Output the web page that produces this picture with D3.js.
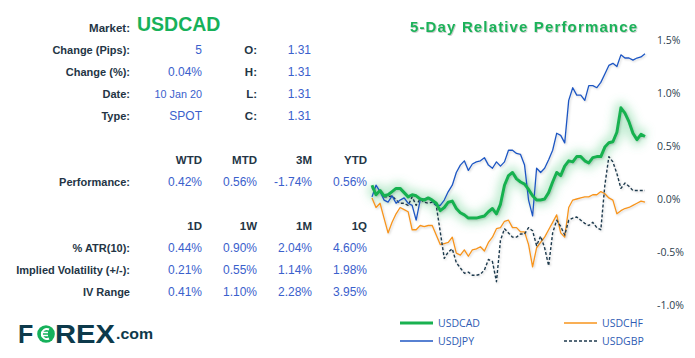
<!DOCTYPE html>
<html><head><meta charset="utf-8">
<script src="https://cdn.jsdelivr.net/npm/d3@7"></script>
<style>
html,body{margin:0;padding:0;background:#fff;}
svg{display:block;}
</style></head><body>
<svg id="c" width="695" height="358"></svg>
<script>
const market = "USDCAD";
const infoLabels = ["Change (Pips):", "Change (%):", "Date:", "Type:"];
const infoValues = ["5", "0.04%", "10 Jan 20", "SPOT"];
const ohlcLabels = ["O:", "H:", "L:", "C:"];
const ohlcValues = ["1.31", "1.31", "1.31", "1.31"];
const perfHeaders = ["WTD", "MTD", "3M", "YTD"];
const perfValues = ["0.42%", "0.56%", "-1.74%", "0.56%"];
const volHeaders = ["1D", "1W", "1M", "1Q"];
const volLabels = ["% ATR(10):", "Implied Volatility (+/-):", "IV Range"];
const atrValues = ["0.44%", "0.90%", "2.04%", "4.60%"];
const ivValues = ["0.21%", "0.55%", "1.14%", "1.98%"];
const ivRangeValues = ["0.41%", "1.10%", "2.28%", "3.95%"];
const yTicks = [1.5, 1.0, 0.5, 0.0, -0.5, -1.0];
const chartTitle = "5-Day Relative Performance";
const seriesNames = ["USDCAD", "USDJPY", "USDCHF", "USDGBP"];

const usdcad = [0.13,0.04,0.08,0.03,0.04,0.07,0.10,0.10,0.06,0.02,0.04,0.03,0.00,-0.01,0.01,-0.01,-0.04,-0.11,-0.08,-0.03,-0.02,-0.09,-0.13,-0.15,-0.18,-0.18,-0.18,-0.17,-0.16,-0.12,-0.09,-0.14,-0.05,0.13,0.22,0.25,0.19,0.16,0.14,0.09,0.03,-0.01,-0.01,0.00,0.06,0.16,0.25,0.22,0.31,0.36,0.35,0.40,0.40,0.36,0.34,0.39,0.40,0.40,0.49,0.53,0.54,0.63,0.86,0.81,0.73,0.62,0.56,0.61,0.59];
const usdjpy = [0.02,0.13,0.07,-0.01,-0.03,0.03,-0.04,-0.01,0.01,-0.04,-0.06,-0.20,-0.01,0.00,0.01,-0.02,-0.06,-0.06,-0.01,0.07,0.13,0.25,0.32,0.36,0.27,0.33,0.35,0.36,0.39,0.32,0.29,0.35,0.31,0.35,0.46,0.46,0.43,0.42,0.32,-0.01,-0.16,0.29,0.25,0.29,0.37,0.46,0.62,0.60,0.53,0.93,1.05,0.98,0.98,0.93,1.07,1.07,1.05,1.10,1.18,1.26,1.28,1.25,1.36,1.33,1.33,1.31,1.33,1.34,1.37];
const usdchf = [0.01,-0.08,-0.04,-0.18,-0.32,-0.22,-0.14,-0.08,-0.10,-0.12,-0.29,-0.29,-0.25,-0.26,-0.25,-0.25,-0.34,-0.43,-0.42,-0.41,-0.36,-0.51,-0.53,-0.48,-0.54,-0.48,-0.47,-0.45,-0.49,-0.41,-0.36,-0.28,-0.27,-0.21,-0.20,-0.27,-0.27,-0.31,-0.31,-0.43,-0.64,-0.46,-0.41,-0.36,-0.29,-0.22,-0.15,-0.32,-0.36,-0.08,-0.01,0.00,0.01,0.02,0.02,0.04,0.04,0.07,0.05,0.01,-0.01,-0.14,-0.11,-0.09,-0.08,-0.06,-0.04,-0.02,-0.03];
const usdgbp = [0.11,0.05,0.08,0.02,0.02,0.03,-0.01,-0.04,-0.04,-0.06,0.02,-0.06,0.00,-0.03,-0.04,-0.03,-0.06,-0.31,-0.56,-0.50,-0.47,-0.60,-0.65,-0.70,-0.69,-0.72,-0.72,-0.71,-0.67,-0.57,-0.59,-0.78,-0.39,-0.28,-0.32,-0.36,-0.36,-0.33,-0.33,-0.27,-0.30,-0.44,-0.35,-0.46,-0.63,-0.32,-0.20,-0.26,-0.34,-0.20,-0.18,-0.17,-0.20,-0.23,-0.25,-0.22,-0.27,-0.29,0.13,0.40,0.35,0.24,0.10,0.15,0.12,0.08,0.08,0.08,0.08];

const svg = d3.select("#c");
const labelFont = "'Liberation Sans', Arial, sans-serif";
const dark = "#243545";
const blue = "#3a60cc";
const green = "#17b15a";

// defs
const defs = svg.append("defs");
defs.append("filter").attr("id", "glow").attr("x", "-20%").attr("y", "-50%").attr("width", "140%").attr("height", "200%")
  .append("feGaussianBlur").attr("stdDeviation", 4.5);
const sh = defs.append("filter").attr("id", "shadow").attr("x", "-10%").attr("y", "-10%").attr("width", "120%").attr("height", "120%");
sh.append("feDropShadow").attr("dx", 1).attr("dy", 1).attr("stdDeviation", 0.8).attr("flood-color", "#000").attr("flood-opacity", 0.18);
const tsh = defs.append("filter").attr("id", "tshadow");
tsh.append("feDropShadow").attr("dx", 0.8).attr("dy", 0.8).attr("stdDeviation", 0.6).attr("flood-color", "#000").attr("flood-opacity", 0.25);

function txt(x, y, s, o) {
  return svg.append("text").attr("x", x).attr("y", y).text(s)
    .attr("font-family", o.family || labelFont)
    .attr("font-size", o.size || 11)
    .attr("font-weight", o.weight || "normal")
    .attr("fill", o.fill || dark)
    .attr("text-anchor", o.anchor || "end");
}

// Info block
txt(130, 32, "Market:", {weight: "bold", size: 11.5});
txt(137, 31, market, {weight: "bold", size: 19.5, fill: green, anchor: "start"});
const rowY = [54, 76, 98, 120];
infoLabels.forEach((l, i) => {
  txt(130, rowY[i], l, {weight: "bold", size: 11});
  txt(202, rowY[i], infoValues[i], {size: i === 2 ? 10.8 : 12, fill: blue});
  txt(257, rowY[i], ohlcLabels[i], {weight: "bold", size: 11.5});
  txt(311, rowY[i], ohlcValues[i], {size: 12, fill: blue});
});

const colX = [202, 257, 312, 367];
perfHeaders.forEach((h, i) => txt(colX[i], 164, h, {weight: "bold", size: 11.5}));
txt(130, 186, "Performance:", {weight: "bold", size: 11});
perfValues.forEach((v, i) => txt(colX[i], 186, v, {size: 12, fill: blue}));

volHeaders.forEach((h, i) => txt(colX[i], 230, h, {weight: "bold", size: 11.5}));
const volRowsData = [atrValues, ivValues, ivRangeValues];
const volY = [252, 274, 296];
volLabels.forEach((l, r) => {
  txt(130, volY[r], l, {weight: "bold", size: 11});
  volRowsData[r].forEach((v, i) => txt(colX[i], volY[r], v, {size: 12, fill: blue}));
});

// Logo
const logoC = "#0d3a4b";
txt(18, 343, "F", {weight: "bold", size: 25, fill: logoC, anchor: "start"});
svg.append("circle").attr("cx", 46).attr("cy", 334).attr("r", 8.8).attr("fill", "#16b15b");
svg.append("path").attr("d", "M49,329.5 A5,5 0 1 0 49,338.5").attr("fill", "none").attr("stroke", "#fff").attr("stroke-width", 2);
svg.append("path").attr("d", "M41,332.5 H48 M41,335.5 H48").attr("stroke", "#fff").attr("stroke-width", 1.5);
txt(55, 343, "REX", {weight: "bold", size: 25, fill: logoC, anchor: "start"}).attr("textLength", 60).attr("lengthAdjust", "spacingAndGlyphs");
txt(116, 338.5, ".com", {weight: "bold", size: 14, fill: logoC, anchor: "start"}).attr("textLength", 37).attr("lengthAdjust", "spacingAndGlyphs");

// Chart title
txt(410, 32, chartTitle, {weight: "bold", size: 15, fill: "#1fb25a", anchor: "start"})
  .attr("textLength", 227).attr("lengthAdjust", "spacing").attr("filter", "url(#tshadow)");

// Scales
const n = usdcad.length;
const x = d3.scaleLinear().domain([0, n - 1]).range([372, 645]);
const y = d3.scaleLinear().domain([-1.0, 1.5]).range([305, 40]);

const yAxis = d3.axisRight(y).tickValues(yTicks).tickSize(0).tickPadding(0)
  .tickFormat(d => d.toFixed(1) + "%");
const ag = svg.append("g").attr("transform", "translate(657,0)").call(yAxis);
ag.select(".domain").remove();
ag.selectAll("text").attr("font-family", "'Open Sans', sans-serif").attr("font-size", 10.5)
  .attr("fill", "#2c3e4e").attr("dy", "0.35em");

const line = d3.line().x((d, i) => x(i)).y(d => y(d)).curve(d3.curveLinear);

// glow for USDCAD
svg.append("path").datum(usdcad).attr("d", line).attr("fill", "none")
  .attr("stroke", "#5ccf86").attr("stroke-width", 13).attr("stroke-opacity", 0.35)
  .attr("stroke-linejoin", "round").attr("filter", "url(#glow)");

const series = [
  {name: "USDCHF", data: usdchf, color: "#f7941d", w: 1.3, dash: null},
  {name: "USDGBP", data: usdgbp, color: "#1f3a4d", w: 1.4, dash: "3,2"},
  {name: "USDJPY", data: usdjpy, color: "#1f57c3", w: 1.3, dash: null},
  {name: "USDCAD", data: usdcad, color: "#19b150", w: 3, dash: null}
];
series.forEach(s => {
  svg.append("path").datum(s.data).attr("d", line).attr("fill", "none")
    .attr("stroke", s.color).attr("stroke-width", s.w)
    .attr("stroke-dasharray", s.dash).attr("stroke-linejoin", "round")
    .attr("filter", "url(#shadow)");
});

// Legend
const legend = [
  {name: seriesNames[0], x: 400, y: 323, color: "#19b150", w: 3, dash: null},
  {name: seriesNames[1], x: 400, y: 341, color: "#1f57c3", w: 1.3, dash: null},
  {name: seriesNames[2], x: 564, y: 323, color: "#f7941d", w: 1.3, dash: null},
  {name: seriesNames[3], x: 564, y: 341, color: "#1f3a4d", w: 1.3, dash: "3,2"}
];
legend.forEach(l => {
  svg.append("line").attr("x1", l.x).attr("x2", l.x + 33).attr("y1", l.y).attr("y2", l.y)
    .attr("stroke", l.color).attr("stroke-width", l.w).attr("stroke-dasharray", l.dash);
  txt(l.x + 38, l.y + 4, l.name, {family: "'Open Sans', sans-serif", size: 10.5, fill: "#2e5bb3", anchor: "start"});
});
</script>
</body></html>
